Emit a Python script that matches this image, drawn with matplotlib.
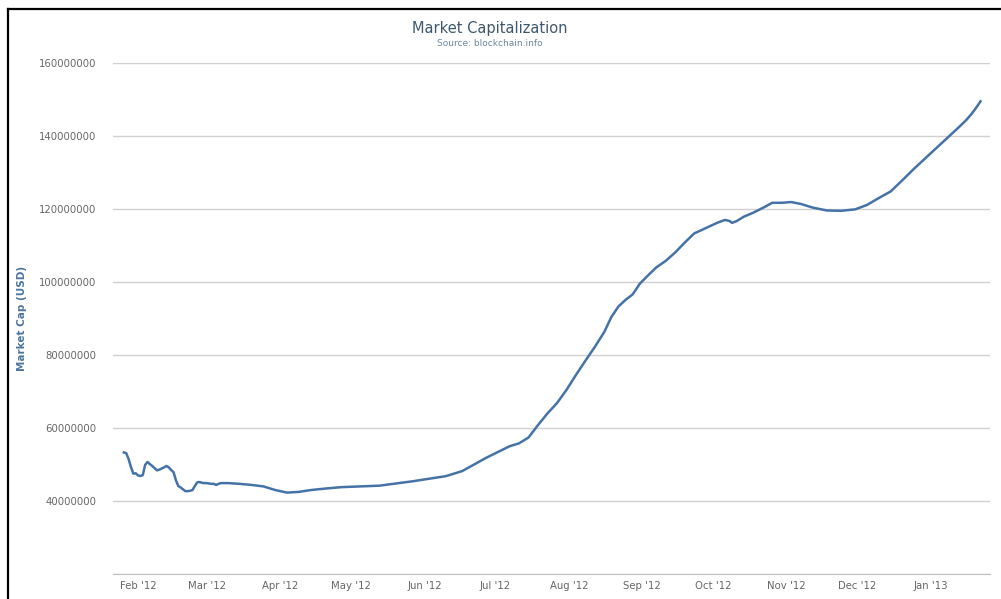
import pandas as pd
import matplotlib.pyplot as plt
import matplotlib.dates as mdates
import matplotlib.ticker as mticker
from matplotlib.lines import Line2D

plt.rcParams['font.family'] = ['DejaVu Sans']

# market cap (millions of USD)
dates = [
    "2012-01-26", "2012-01-27", "2012-01-28", "2012-01-29", "2012-01-30", "2012-01-31",
    "2012-02-01", "2012-02-02", "2012-02-03", "2012-02-04", "2012-02-05", "2012-02-06",
    "2012-02-07", "2012-02-08", "2012-02-09", "2012-02-10", "2012-02-11", "2012-02-12",
    "2012-02-13", "2012-02-14", "2012-02-15", "2012-02-16", "2012-02-17", "2012-02-18",
    "2012-02-19", "2012-02-20", "2012-02-21", "2012-02-22", "2012-02-23", "2012-02-24",
    "2012-02-25", "2012-02-26", "2012-02-27", "2012-02-28", "2012-02-29", "2012-03-01",
    "2012-03-02", "2012-03-03", "2012-03-04", "2012-03-05", "2012-03-06", "2012-03-07",
    "2012-03-10", "2012-03-15", "2012-03-20", "2012-03-25", "2012-03-30", "2012-04-04",
    "2012-04-09", "2012-04-14", "2012-04-20", "2012-04-27", "2012-05-05", "2012-05-13",
    "2012-05-20", "2012-05-27", "2012-06-03", "2012-06-10", "2012-06-17", "2012-06-22",
    "2012-06-27", "2012-07-02", "2012-07-07", "2012-07-11", "2012-07-15", "2012-07-19",
    "2012-07-23", "2012-07-27", "2012-07-31", "2012-08-04", "2012-08-08", "2012-08-12",
    "2012-08-16", "2012-08-19", "2012-08-22", "2012-08-25", "2012-08-28", "2012-08-31",
    "2012-09-03", "2012-09-07", "2012-09-11", "2012-09-15", "2012-09-19", "2012-09-23",
    "2012-09-28", "2012-10-03", "2012-10-06", "2012-10-08", "2012-10-09", "2012-10-11",
    "2012-10-14", "2012-10-18", "2012-10-22", "2012-10-26", "2012-10-30", "2012-11-03",
    "2012-11-07", "2012-11-12", "2012-11-18", "2012-11-24", "2012-11-30", "2012-12-05",
    "2012-12-10", "2012-12-15", "2012-12-20", "2012-12-25", "2012-12-30", "2013-01-04",
    "2013-01-09", "2013-01-13", "2013-01-16", "2013-01-18", "2013-01-20", "2013-01-22",
]
market_cap_m = [
    53.3, 53.1, 51.5, 49.3, 47.5, 47.6,
    47.0, 46.85, 47.1, 49.9, 50.7, 50.1,
    49.6, 49.0, 48.4, 48.6, 48.9, 49.2,
    49.6, 49.2, 48.5, 47.9, 45.7, 44.1,
    43.7, 43.2, 42.7, 42.7, 42.8, 43.0,
    44.1, 45.1, 45.2, 45.0, 44.9, 44.9,
    44.8, 44.7, 44.7, 44.4, 44.7, 44.9,
    44.9, 44.7, 44.4, 44.0, 43.0, 42.3,
    42.5, 43.0, 43.4, 43.8, 44.0, 44.2,
    44.8, 45.4, 46.1, 46.8, 48.2, 50.0,
    51.8, 53.4, 55.0, 55.8, 57.4, 60.8,
    64.0, 66.8, 70.4, 74.5, 78.4, 82.2,
    86.3, 90.4, 93.3, 95.1, 96.6, 99.5,
    101.5, 104.0, 105.8, 108.1, 110.8, 113.3,
    114.8, 116.3, 117.0, 116.7, 116.2, 116.7,
    117.9, 119.0, 120.3, 121.7, 121.7, 121.9,
    121.4, 120.4, 119.6, 119.5, 119.9, 121.1,
    123.0, 124.8, 127.9, 131.1, 134.1, 137.1,
    140.1, 142.5, 144.4, 145.9, 147.6, 149.5,
]

x = pd.to_datetime(dates)
y = [v * 1e6 for v in market_cap_m]

fig = plt.figure(figsize=(10.01, 5.99), dpi=100)
ax = fig.add_axes([113 / 1001, 1 - 574 / 599, (990 - 113) / 1001, (574 - 63) / 599])

ax.plot(x, y, color="#4572A7", linewidth=1.8, solid_joinstyle="round")

ax.set_ylim(20e6, 160e6)
ax.set_xlim(pd.Timestamp("2012-01-21 10:00"), pd.Timestamp("2013-01-26"))

ax.yaxis.set_major_locator(mticker.MultipleLocator(20e6))
ax.yaxis.set_major_formatter(mticker.FuncFormatter(lambda v, p: "" if v < 30e6 else f"{int(v)}"))
ax.xaxis.set_major_locator(mdates.MonthLocator())
ax.xaxis.set_major_formatter(mdates.DateFormatter("%b '%y"))

ax.grid(axis="y", color="#D0D0D0", linewidth=1)
ax.set_axisbelow(True)
for side in ["top", "right", "left"]:
    ax.spines[side].set_visible(False)
ax.spines["bottom"].set_color("#C0C0C0")
ax.tick_params(axis="both", length=0, labelsize=7.3, labelcolor="#666666")
ax.tick_params(axis="y", pad=12)
ax.tick_params(axis="x", pad=5)

ax.set_ylabel("Market Cap (USD)", color="#4D759E", fontsize=7.5, fontweight="bold", labelpad=10)
ax.yaxis.set_label_coords(-(113 - 27) / 877, 0.5)

fig.text(490 / 1001, 1 - 28 / 599, "Market Capitalization", ha="center", va="center",
         fontsize=10.5, color="#3E576F")
fig.text(490 / 1001, 1 - 44 / 599, "Source: blockchain.info", ha="center", va="center",
         fontsize=6.5, color="#6D869F")

# frame lines on the left and top edge of the screenshot
fig.add_artist(Line2D([8 / 1001, 8 / 1001], [0, 1 - 9 / 599], color="black", linewidth=1.6))
fig.add_artist(Line2D([8 / 1001, 1], [1 - 9 / 599, 1 - 9 / 599], color="black", linewidth=1.6))

fig.savefig("out.png", dpi=100)
